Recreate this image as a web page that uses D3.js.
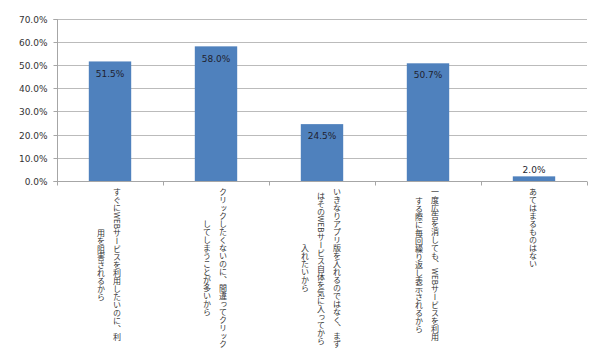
<!DOCTYPE html>
<html>
<head>
<meta charset="utf-8">
<script src="https://cdn.jsdelivr.net/npm/d3@7"></script>
<style>
  html, body { margin: 0; padding: 0; background: #fff; }
  svg { display: block; }
</style>
</head>
<body>
<svg id="chart" width="600" height="360"></svg>
<script>
const categories = [
  "すぐにWEBサービスを利用したいのに、利用を阻害されるから",
  "クリックしたくないのに、間違ってクリックしてしまうことが多いから",
  "いきなりアプリ版を入れるのではなく、まずはそのWEBサービス自体を気に入ってから入れたいから",
  "一度広告を消しても、WEBサービスを利用する際に毎回繰り返し表示されるから",
  "あてはまるものはない"
];
const categoryLines = [
  ["すぐにWEBサービスを利用したいのに、利", "用を阻害されるから"],
  ["クリックしたくないのに、間違ってクリック", "してしまうことが多いから"],
  ["いきなりアプリ版を入れるのではなく、まず", "はそのWEBサービス自体を気に入ってから", "入れたいから"],
  ["一度広告を消しても、WEBサービスを利用", "する際に毎回繰り返し表示されるから"],
  ["あてはまるものはない"]
];
const values = [0.515, 0.580, 0.245, 0.507, 0.020];
const yTicks = [0, 0.1, 0.2, 0.3, 0.4, 0.5, 0.6, 0.7];

const svg = d3.select("#chart");
const pLeft = 57, pRight = 587, pTop = 18.5, pBottom = 181;

const x = d3.scaleBand().domain(categories).range([pLeft, pRight])
  .paddingInner(0.6).paddingOuter(0.3);
const y = d3.scaleLinear().domain([0, 0.7]).range([pBottom, pTop]);
const fmt = d3.format(".1%");

// gridlines
svg.append("g").selectAll("line").data(yTicks.filter(d => d > 0)).join("line")
  .attr("x1", pLeft).attr("x2", pRight)
  .attr("y1", d => Math.round(y(d)) + 0.5).attr("y2", d => Math.round(y(d)) + 0.5)
  .attr("stroke", "#BBBBBB").attr("stroke-width", 1);

// y axis
const yAxis = svg.append("g").attr("transform", `translate(${pLeft + 0.5},0)`)
  .call(d3.axisLeft(y).tickValues(yTicks).tickFormat(fmt).tickSize(4).tickPadding(6));
yAxis.select(".domain").attr("stroke", "#A6A6A6").attr("d", `M-4,${Math.round(pTop)+0.5}H0V${Math.round(pBottom)+0.5}H-4`);
yAxis.selectAll(".tick line").attr("stroke", "#A6A6A6");
yAxis.selectAll(".tick").attr("transform", d => `translate(0,${Math.round(y(d)) + 0.5})`);
yAxis.selectAll("text").attr("font-family", "DejaVu Sans, Verdana, sans-serif")
  .attr("font-size", 9).attr("fill", "#333").attr("dy", "0.35em");

// bars
svg.append("g").selectAll("rect").data(values).join("rect")
  .attr("x", (d, i) => x(categories[i]))
  .attr("width", x.bandwidth())
  .attr("y", d => y(d))
  .attr("height", d => pBottom - y(d))
  .attr("fill", "#4F81BD");

// x axis
const xAxis = svg.append("g").attr("transform", `translate(0,${Math.round(pBottom) + 0.5})`);
xAxis.append("line").attr("x1", pLeft).attr("x2", pRight).attr("stroke", "#A6A6A6");
const bounds = categories.map(c => x(c) - x.step() * x.paddingInner() / 2).concat([pRight]);
xAxis.selectAll("line.tk").data(bounds).join("line").attr("class", "tk")
  .attr("x1", d => Math.round(d) + 0.5).attr("x2", d => Math.round(d) + 0.5)
  .attr("y1", 0).attr("y2", 4).attr("stroke", "#A6A6A6");

// value labels
svg.append("g").selectAll("text").data(values).join("text")
  .attr("x", (d, i) => x(categories[i]) + x.bandwidth() / 2)
  .attr("y", d => d < 0.05 ? y(d) - 7 : y(d) + 12)
  .attr("dy", "0.35em")
  .attr("text-anchor", "middle")
  .attr("font-family", "DejaVu Sans, Verdana, sans-serif")
  .attr("font-size", 9).attr("fill", "#1F1F2F")
  .text(d => fmt(d));

// vertical category labels
const labelTop = 188, colGap = 16;
categoryLines.forEach((lines, i) => {
  const cx = x(categories[i]) + x.bandwidth() / 2 - 1;
  const g = svg.append("g");
  const texts = g.selectAll("text").data(lines).join("text")
    .attr("x", (d, j) => cx + (lines.length - 1) / 2 * colGap - j * colGap)
    .attr("y", labelTop)
    .attr("text-anchor", "middle")
    .attr("font-family", "Noto Sans CJK JP, sans-serif")
    .attr("font-size", 8)
    .attr("fill", "#333")
    .style("writing-mode", "vertical-rl")
    .style("text-orientation", "mixed")
    .text(d => d);
  const maxLen = d3.max(texts.nodes(), n => n.getComputedTextLength());
  texts.attr("y", labelTop + maxLen / 2);
});
</script>
</body>
</html>
